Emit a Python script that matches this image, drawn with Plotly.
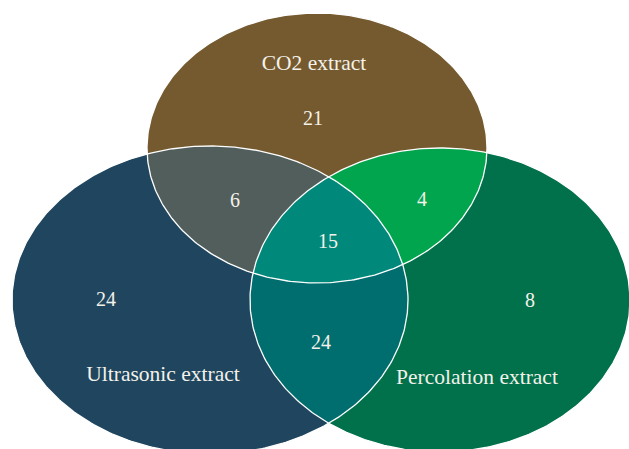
import math
import plotly.graph_objects as go

# ---------------- data ----------------
set_names = ["CO2 extract", "Ultrasonic extract", "Percolation extract"]
# region membership keys (CO2, Ultrasonic, Percolation)
region_keys = ["100", "010", "001", "110", "101", "011", "111"]
region_counts = [21, 24, 8, 6, 4, 24, 15]

# ---------------- styling / geometry (layout only) ----------------
W, H = 629, 449
ellipses = {  # cx, cy, rx, ry in pixel space
    "100": (317, 148, 170, 135),
    "010": (210, 300, 198, 154),
    "001": (440, 300, 190, 152),
}
region_colors = {
    "100": "#745A2E",
    "010": "#1F465E",
    "001": "#00714A",
    "110": "#515E5B",
    "101": "#00A54D",
    "011": "#006E6F",
    "111": "#00897B",
}
count_pos = {
    "100": (313, 120), "010": (106, 301), "001": (530, 302),
    "110": (235, 202), "101": (422, 201), "011": (321, 344), "111": (328, 243),
}
name_pos = [(314, 65), (163, 376), (477, 379)]
text_color = "#F4F1EA"
font_family = "Liberation Serif, DejaVu Serif, serif"


def ellipse_poly(cx, cy, rx, ry, n=400):
    return [(cx + rx * math.cos(2 * math.pi * i / n), cy + ry * math.sin(2 * math.pi * i / n)) for i in range(n)]


def signed_area(p):
    return sum(p[i][0] * p[(i + 1) % len(p)][1] - p[(i + 1) % len(p)][0] * p[i][1] for i in range(len(p)))


def clip(subject, clipper):
    s = 1 if signed_area(clipper) > 0 else -1
    out = subject
    n = len(clipper)
    for i in range(n):
        a, b = clipper[i], clipper[(i + 1) % n]
        inp, out = out, []
        if not inp:
            break

        def inside(p):
            return s * ((b[0] - a[0]) * (p[1] - a[1]) - (b[1] - a[1]) * (p[0] - a[0])) >= 0

        def inter(p, q):
            dx1, dy1 = b[0] - a[0], b[1] - a[1]
            dx2, dy2 = q[0] - p[0], q[1] - p[1]
            den = dx1 * dy2 - dy1 * dx2
            if den == 0:
                return q
            t = ((p[0] - a[0]) * dy1 - (p[1] - a[1]) * dx1) / den
            return (p[0] + t * dx2, p[1] + t * dy2)

        for j in range(len(inp)):
            cur, prev = inp[j], inp[j - 1]
            if inside(cur):
                if not inside(prev):
                    out.append(inter(prev, cur))
                out.append(cur)
            elif inside(prev):
                out.append(inter(prev, cur))
    return out


polys = {k: ellipse_poly(*v) for k, v in ellipses.items()}
singles = ["100", "010", "001"]


def region_poly(key):
    members = [singles[i] for i, c in enumerate(key) if c == "1"]
    p = polys[members[0]]
    for m in members[1:]:
        p = clip(p, polys[m])
    return p


fig = go.Figure()
draw_order = ["100", "010", "001", "110", "101", "011", "111"]
for key in draw_order:
    p = region_poly(key)
    xs = [q[0] for q in p] + [p[0][0]]
    ys = [q[1] for q in p] + [p[0][1]]
    fig.add_trace(go.Scatter(x=xs, y=ys, mode="lines", fill="toself",
                             fillcolor=region_colors[key], line=dict(width=0, color=region_colors[key]),
                             hoverinfo="skip", showlegend=False))

for key in singles:
    p = polys[key]
    fig.add_trace(go.Scatter(x=[q[0] for q in p] + [p[0][0]], y=[q[1] for q in p] + [p[0][1]],
                             mode="lines", line=dict(width=1.3, color="white"),
                             hoverinfo="skip", showlegend=False))

# counts
fig.add_trace(go.Scatter(
    x=[count_pos[k][0] for k in region_keys], y=[count_pos[k][1] for k in region_keys],
    mode="text", text=[str(c) for c in region_counts],
    textfont=dict(family=font_family, size=20, color=text_color),
    hoverinfo="skip", showlegend=False))
# set names
fig.add_trace(go.Scatter(
    x=[p[0] for p in name_pos], y=[p[1] for p in name_pos],
    mode="text", text=set_names,
    textfont=dict(family=font_family, size=21.5, color=text_color),
    hoverinfo="skip", showlegend=False))

fig.update_layout(
    width=W, height=H, margin=dict(l=0, r=0, t=0, b=0),
    paper_bgcolor="white", plot_bgcolor="white",
    xaxis=dict(range=[0, W], visible=False, fixedrange=True),
    yaxis=dict(range=[H, 0], visible=False, fixedrange=True),
)
fig.write_html("out.html", config={"displayModeBar": False},
               post_script="document.body.style.margin='0';document.body.style.overflow='hidden';")
